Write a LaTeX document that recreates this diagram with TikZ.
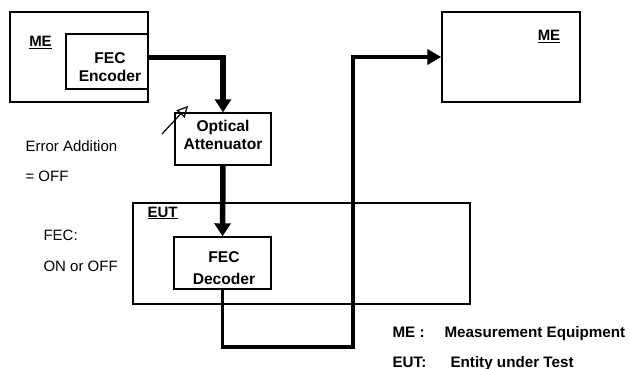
\documentclass[tikz,border=0pt]{standalone}
\usepackage{fontspec}
\setmainfont{Liberation Sans}
\usetikzlibrary{arrows.meta, positioning}

\begin{document}
\begin{tikzpicture}[
          x=1pt, y=-1pt,
          font=\fontsize{15}{18}\selectfont,
          box/.style 2 args={draw, line width=1.4pt, minimum width=#1, minimum height=#2, inner sep=0pt},
          boxtext/.style={align=center, font=\fontsize{15.6}{18}\selectfont\bfseries},
          title/.style={anchor=base, font=\fontsize{15}{18}\selectfont\bfseries},
          note/.style={anchor=base west},
          legend/.style={anchor=base west, font=\fontsize{15.2}{18}\selectfont\bfseries},
          % Signal lines
          fiber/.style={line width=5.5pt, -{Triangle[length=13pt, width=16pt]}},
          back/.style={line width=3.5pt, -{Triangle[length=14pt, width=15pt]}}
        ]
        \useasboundingbox (0,0) rectangle (630,369);

        % -------- Transmitting side --------
        \node[box={138pt}{90pt}] (meL) at (79,57) {};
        \node[box={82pt}{55pt}] (enc) at (107,61.5) {};
        \node[boxtext] (enc-txt) at (110,67) {FEC\\Encoder};
        \node[title] (meL-lbl) at (40.5,46.5) {\underline{ME}};

        % -------- Attenuator --------
        \node[box={96pt}{52pt}] (att) at (223,139) {};
        \node[boxtext] (att-txt) at (223,135) {Optical\\Attenuator};
        \coordinate (var-a) at (162,134);
        \coordinate (var-b) at (188,106);
        \draw[line width=1.2pt, -{Triangle[open, length=11pt, width=11pt]}] (var-a) -- (var-b);

        % -------- Entity under test --------
        \node[box={337pt}{101pt}] (eut) at (301.5,253.5) {};
        \node[box={97pt}{52pt}] (dec) at (222.5,263) {};
        \node[boxtext] (dec-txt) at (224,268) {FEC\\[4pt]Decoder};
        \node[title] (eut-lbl) at (162.5,217) {\underline{EUT}};

        % -------- Receiving side --------
        \node[box={138pt}{90pt}] (meR) at (511,57) {};
        \node[title] (meR-lbl) at (549,41) {\underline{ME}};

        % -------- Settings --------
        \node[note] (err) at (22,151) {Error Addition};
        \node[note] (err-val) at (22,182) {= OFF};
        \node[note] (fec) at (40,240) {FEC:};
        \node[note] (fec-val) at (40,271) {ON or OFF};

        % -------- Legend --------
        \node[legend] (lg-me) at (389,337) {ME :};
        \node[legend] (lg-me-txt) at (441,337) {Measurement Equipment};
        \node[legend] (lg-eut) at (389,367) {EUT:};
        \node[legend] (lg-eut-txt) at (447,367) {Entity under Test};

        % -------- Arrows --------
        \coordinate (low) at (353,347);
        \draw[fiber] ([yshift=4pt]enc.east) -| (att.north);
        \draw[fiber] (att.south) -- (dec.north);
        \draw[back] (dec.south) |- (low) |- (meR.west);

      \end{tikzpicture}
\end{document}
